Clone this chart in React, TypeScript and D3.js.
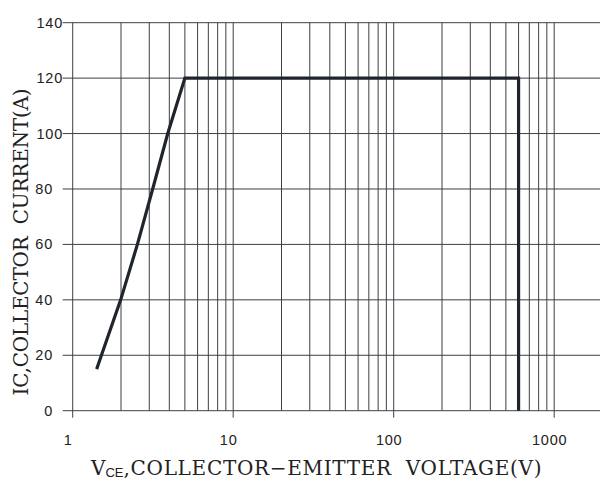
import { useRef, useEffect } from 'react'
import * as d3 from 'd3'

// safe operating area boundary
const vce = [1.41, 1.51, 1.99, 2.53, 3.15, 3.91, 5, 600, 600]
const ic = [15, 20, 40, 60, 80, 100, 120, 120, 0]

const yTicks = [0, 20, 40, 60, 80, 100, 120, 140]
const xLabels = [1, 10, 100, 1000]
const xTitleMain = ',COLLECTOR\u2212EMITTER  VOLTAGE(V)'
const yTitle = 'IC,COLLECTOR  CURRENT(A)'

export default function App() {
  const svgRef = useRef<SVGSVGElement>(null)

  useEffect(() => {
    const w = 600
    const h = 481
    const svg = d3.select(svgRef.current)
      .attr('width', w)
      .attr('height', h)
    svg.selectAll('*').remove()

    //scales
    const x = d3.scaleLog().domain([1, 2000]).range([72.7, 602.5])
    const y = d3.scaleLinear().domain([0, 140]).range([410.7, 22.7])

    const grid = svg.append('g').attr('stroke', '#3c3f44').attr('stroke-width', 1)

    //vertical grid: every 1..9 x 10^k
    const vLines: number[] = []
    for (let k = 0; k < 4; k++) {
      for (let m = 1; m < 10; m++) {
        const v = m * Math.pow(10, k)
        if (v <= 2000) vLines.push(v)
      }
    }
    grid.selectAll('.vl')
      .data(vLines)
      .join('line')
        .attr('x1', d => x(d)).attr('x2', d => x(d))
        .attr('y1', y(140)).attr('y2', y(0))

    //horizontal grid + left ticks
    grid.selectAll('.hl')
      .data(yTicks)
      .join('line')
        .attr('x1', x(1) - 10).attr('x2', w)
        .attr('y1', d => y(d)).attr('y2', d => y(d))

    //bottom ticks at decades
    grid.selectAll('.bt')
      .data(xLabels)
      .join('line')
        .attr('x1', d => x(d)).attr('x2', d => x(d))
        .attr('y1', y(0)).attr('y2', y(0) + 7)

    //tick labels
    svg.append('g')
      .selectAll('text')
      .data(yTicks)
      .join('text')
        .attr('x', d => d >= 100 ? 63 : 53)
        .attr('y', d => y(d) + 5)
        .attr('text-anchor', 'end')
        .attr('font-family', '"Liberation Sans", Arial, sans-serif')
        .attr('font-size', 14.5)
        .attr('fill', '#222')
        .attr('letter-spacing', 0.8)
        .text(d => d)

    svg.append('g')
      .selectAll('text')
      .data(xLabels)
      .join('text')
        .attr('x', d => x(d) - 4.5)
        .attr('y', 445)
        .attr('text-anchor', 'middle')
        .attr('font-family', '"Liberation Sans", Arial, sans-serif')
        .attr('font-size', 14.5)
        .attr('fill', '#222')
        .attr('letter-spacing', 0.8)
        .text(d => d)

    //boundary line
    const line = d3.line<number>()
      .x(d => x(vce[d]))
      .y(d => y(ic[d]))
    svg.append('path')
      .attr('d', line(d3.range(vce.length)))
      .attr('fill', 'none')
      .attr('stroke', '#20252d')
      .attr('stroke-width', 3.2)
      .attr('stroke-linejoin', 'miter')

    //axis titles
    const xt = svg.append('text')
      .attr('x', 91)
      .attr('y', 475)
      .attr('font-family', '"DejaVu Serif", serif')
      .attr('font-size', 20)
      .attr('fill', '#222')
      .style('white-space', 'pre')
    xt.append('tspan').text('V')
    xt.append('tspan')
      .attr('font-family', '"Liberation Sans", Arial, sans-serif')
      .attr('font-size', 13)
      .attr('dy', 2)
      .text('CE')
    xt.append('tspan')
      .attr('dy', -2)
      .attr('textLength', 418)
      .attr('lengthAdjust', 'spacing')
      .text(xTitleMain)

    svg.append('text')
      .attr('transform', 'translate(28, 242) rotate(-90)')
      .attr('text-anchor', 'middle')
      .attr('font-family', '"DejaVu Serif", serif')
      .attr('font-size', 20)
      .attr('fill', '#222')
      .attr('textLength', 307)
      .attr('lengthAdjust', 'spacing')
      .style('white-space', 'pre')
      .text(yTitle)
  }, [])

  return (
    <div style={{ position: 'absolute', left: 0, top: 0 }}>
      <svg ref={svgRef} style={{ display: 'block', background: '#fff' }}></svg>
    </div>
  )
}
